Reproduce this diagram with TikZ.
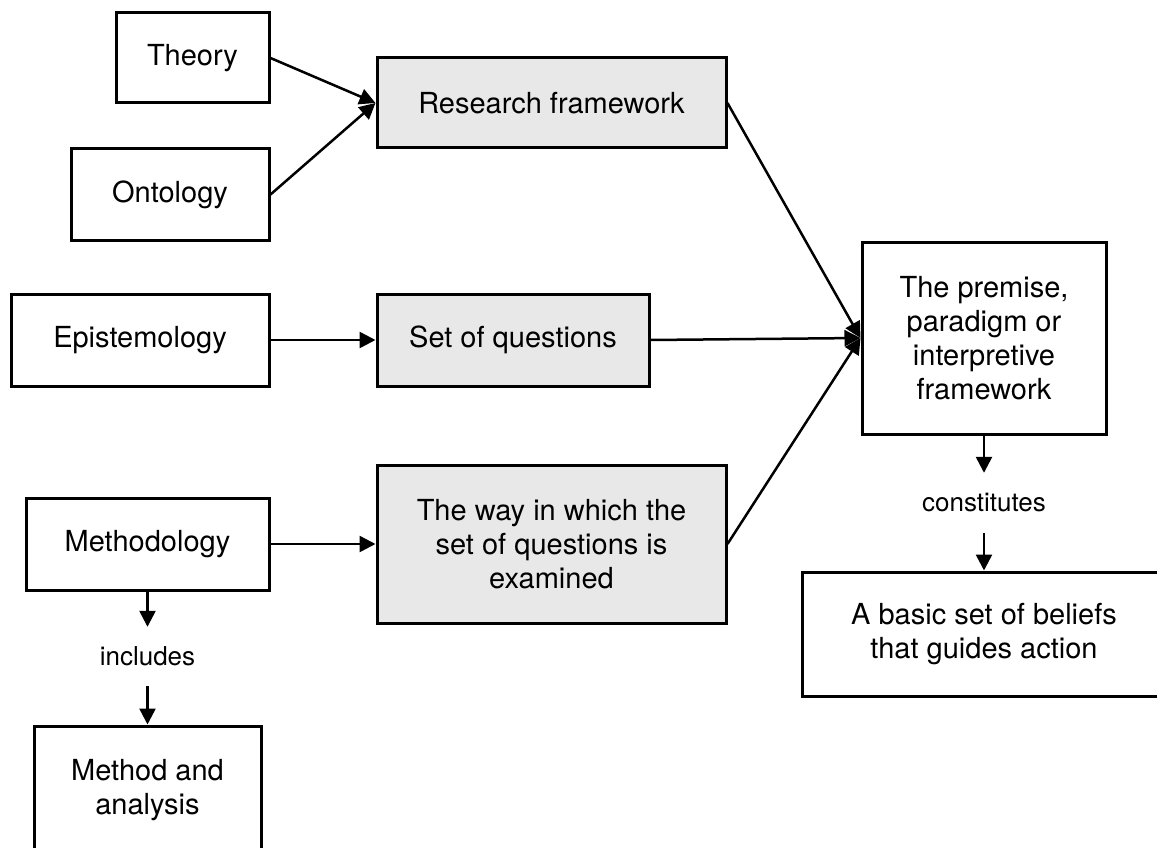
\documentclass[tikz,border=0pt]{standalone}
\usepackage{fontspec}
\setmainfont{TeX Gyre Heros}
\usetikzlibrary{arrows.meta}
\definecolor{boxgray}{RGB}{232,232,232}
\tikzset{
  box/.style={draw=black, line width=3pt, rectangle, inner sep=0pt, align=center,
    font=\fontsize{29}{34}\selectfont},
  graybox/.style={box, fill=boxgray},
  lbl/.style={inner sep=0pt, align=center, font=\fontsize{26}{30}\selectfont},
  conn/.style={line width=2.5pt, -{Triangle[length=16pt,width=16pt]}},
}
\begin{document}
\begin{tikzpicture}[x=1pt,y=-1pt]
\useasboundingbox (0,0) rectangle (1157,848);
\clip (0,0) rectangle (1157,848);
\fill[white] (0,0) rectangle (1157,848);
% left column
\node[box, minimum width=153pt, minimum height=90pt] (theory) at (192.5,58) {Theory};
\node[box, minimum width=198pt, minimum height=91pt] (onto) at (170,194.5) {Ontology};
\node[box, minimum width=258pt, minimum height=92pt] (epi) at (140,340) {Epistemology};
\node[box, minimum width=243pt, minimum height=92pt] (meth) at (147.5,544) {Methodology};
\node[lbl, minimum height=59pt] (incl) at (147.5,656.5) {includes};
\node[box, minimum width=227pt, minimum height=128pt] (mna) at (147.5,790) {Method and\\analysis};
% middle column
\node[graybox, minimum width=349pt, minimum height=90pt] (rf) at (551.5,103) {Research framework};
\node[graybox, minimum width=272pt, minimum height=92pt] (soq) at (513,340) {Set of questions};
\node[graybox, minimum width=349pt, minimum height=158pt] (way) at (551.5,544) {The way in which the\\set of questions is\\examined};
% right column
\node[box, minimum width=244pt, minimum height=192pt] (prem) at (984,338) {The premise,\\paradigm or\\interpretive\\framework};
\node[lbl, minimum height=60pt] (cons) at (984,503) {constitutes};
\node[box, minimum width=364pt, minimum height=124pt] (bel) at (984,634) {A basic set of beliefs\\that guides action};
% connectors
\draw[conn] (theory.east) -- (rf.west);
\draw[conn] (onto.east) -- (rf.west);
\draw[conn] (epi.east) -- (soq.west);
\draw[conn] (meth.east) -- (way.west);
\draw[conn] (rf.east) -- (prem.west);
\draw[conn] (soq.east) -- (prem.west);
\draw[conn] (way.east) -- (prem.west);
\draw[conn] (prem.south) -- (cons.north);
\draw[conn] (cons.south) -- (bel.north);
\draw[conn] (meth.south) -- (incl.north);
\draw[conn] (incl.south) -- (mna.north);
\end{tikzpicture}
\end{document}
